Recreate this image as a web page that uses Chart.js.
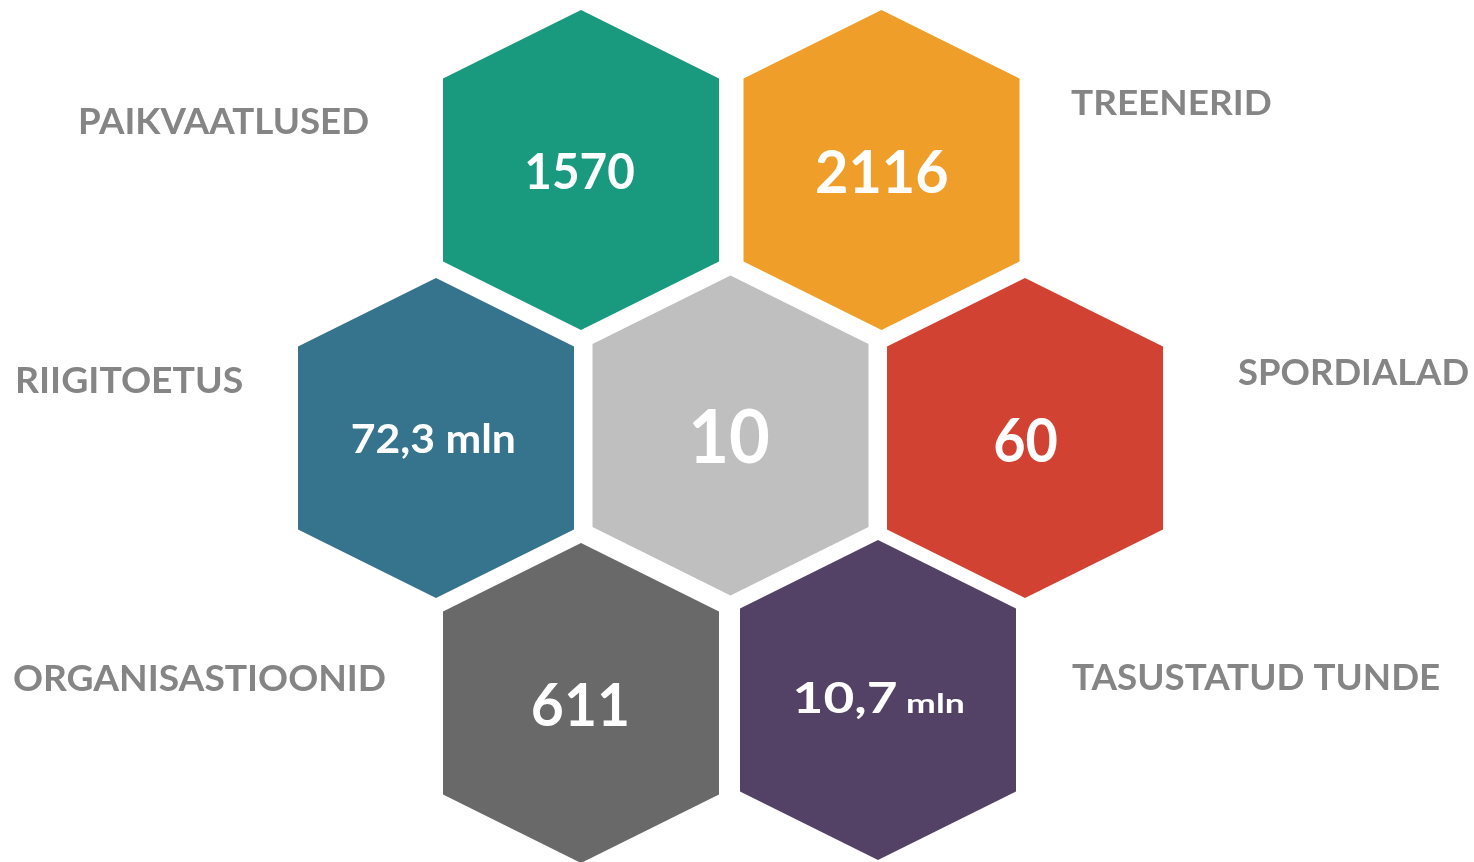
<!DOCTYPE html>
<html><head><meta charset="utf-8">
<script src="https://cdn.jsdelivr.net/npm/chart.js@4/dist/chart.umd.min.js"></script>
<style>
html,body{margin:0;padding:0;background:#fff;overflow:hidden}
#wrap{width:1474px;height:862px;position:relative}
</style>
</head><body>
<div id="wrap"><canvas id="c"></canvas></div>
<script>
// ---- data ----
const categories = ['PAIKVAATLUSED', 'TREENERID', 'RIIGITOETUS', '', 'SPORDIALAD', 'ORGANISASTIOONID', 'TASUSTATUD TUNDE'];
const values = [1570, 2116, 72.3, 10, 60, 611, 10.7];
const units = ['', '', 'mln', '', '', '', 'mln'];
const colors = ['#199a7f', '#f09e2a', '#36748e', '#bfbfbf', '#d24233', '#696969', '#534265'];

// ---- layout (chart coordinate space 1474 x 862) ----
const hexCenterX = [581, 881.5, 436, 730.5, 1025, 581, 878];
const hexCenterY = [170, 170, 438, 435.5, 438, 703, 700];
const HEX = { halfWidth: 138, halfHeight: 160, shoulder: 91.5 };
// value text: digit height, ink width, unit size ratio, offsets
const valueStyle = [
  { h: 36.6, w: 106.6, k: 1, dx: -0.5, dy: 1 },
  { h: 43.7, w: 130, k: 1, dx: 0.5, dy: 1 },
  { h: 29.3, w: 162.3, k: 1, dx: -3, dy: 0.7 },
  { h: 54, w: 77, k: 1, dx: 0, dy: 0.8 },
  { h: 44, w: 62, k: 1, dx: 1, dy: 1.7 },
  { h: 42.7, w: 94.4, k: 1, dx: -1, dy: 1.5 },
  { h: 30, w: 167.7, k: 0.67, dx: 1, dy: -1.7 }
];
// category labels: [left, right, capTop, baseline]
const labelBox = [
  [80, 368, 107, 134],
  [1071, 1271, 89.3, 115],
  [17, 242, 366, 393],
  null,
  [1238, 1468, 358, 385],
  [14, 385, 663.5, 690.5],
  [1072, 1439, 663, 690]
];
const FONT = 'Lato, "Open Sans", sans-serif';
const LABEL_COLOR = '#858585';

function fitText(ctx, parts, left, width, capH, baseline, refChar, color) {
  ctx.save();
  ctx.textAlign = 'left';
  ctx.textBaseline = 'alphabetic';
  ctx.font = 'bold 100px ' + FONT;
  const ref = ctx.measureText(refChar).actualBoundingBoxAscent;
  const size = 100 * capH / ref;
  let x = 0, inkL = null, inkR = 0;
  const runs = parts.map(p => {
    const s = size * p.k;
    ctx.font = 'bold ' + s + 'px ' + FONT;
    const mm = ctx.measureText(p.t);
    const r = { t: p.t, x: x, s: s };
    if (inkL === null) inkL = x - mm.actualBoundingBoxLeft;
    inkR = x + mm.actualBoundingBoxRight;
    x += mm.width;
    return r;
  });
  const sx = width / (inkR - inkL);
  ctx.translate(left, baseline);
  ctx.scale(sx, 1);
  ctx.translate(-inkL, 0);
  ctx.fillStyle = color;
  runs.forEach(r => { ctx.font = 'bold ' + r.s + 'px ' + FONT; ctx.fillText(r.t, r.x, 0); });
  ctx.restore();
}

const hexPlugin = {
  id: 'hexagons',
  beforeDatasetsDraw(chart) {
    const ctx = chart.ctx, xs = chart.scales.x, ys = chart.scales.y;
    const meta = chart.getDatasetMeta(0);
    const hw = Math.abs(xs.getPixelForValue(HEX.halfWidth) - xs.getPixelForValue(0));
    const hh = Math.abs(ys.getPixelForValue(HEX.halfHeight) - ys.getPixelForValue(0));
    const sh = Math.abs(ys.getPixelForValue(HEX.shoulder) - ys.getPixelForValue(0));
    meta.data.forEach((pt, i) => {
      const cx = pt.x, cy = pt.y;
      ctx.save();
      ctx.beginPath();
      ctx.moveTo(cx, cy - hh);
      ctx.lineTo(cx + hw, cy - sh);
      ctx.lineTo(cx + hw, cy + sh);
      ctx.lineTo(cx, cy + hh);
      ctx.lineTo(cx - hw, cy + sh);
      ctx.lineTo(cx - hw, cy - sh);
      ctx.closePath();
      ctx.fillStyle = colors[i];
      ctx.fill();
      ctx.restore();
    });
  },
  afterDatasetsDraw(chart) {
    const ctx = chart.ctx, xs = chart.scales.x, ys = chart.scales.y;
    const meta = chart.getDatasetMeta(0);
    meta.data.forEach((pt, i) => {
      const st = valueStyle[i];
      const parts = [{ t: String(values[i]).replace('.', ','), k: 1 }];
      if (units[i]) parts.push({ t: ' ' + units[i], k: st.k });
      const left = pt.x + st.dx - st.w / 2;
      const baseline = pt.y + st.dy + st.h / 2;
      fitText(ctx, parts, left, st.w, st.h, baseline, '0', '#ffffff');
      const b = labelBox[i];
      if (b && categories[i]) {
        const l = xs.getPixelForValue(b[0]), r = xs.getPixelForValue(b[1]);
        const t = ys.getPixelForValue(b[2]), bl = ys.getPixelForValue(b[3]);
        fitText(ctx, [{ t: categories[i], k: 1 }], l, r - l, bl - t, bl, 'H', LABEL_COLOR);
      }
    });
  }
};

function build() {
  new Chart(document.getElementById('c'), {
    type: 'scatter',
    data: {
      labels: categories,
      datasets: [{
        data: hexCenterX.map((x, i) => ({ x: x, y: hexCenterY[i] })),
        pointRadius: 0,
        pointHoverRadius: 0,
        backgroundColor: colors
      }]
    },
    options: {
      responsive: true,
      maintainAspectRatio: false,
      animation: false,
      layout: { padding: 0 },
      events: [],
      scales: {
        x: { type: 'linear', min: 0, max: 1474, display: false },
        y: { type: 'linear', min: 0, max: 862, reverse: true, display: false }
      },
      plugins: { legend: { display: false }, tooltip: { enabled: false } }
    },
    plugins: [hexPlugin]
  });
}
if (document.fonts && document.fonts.load) {
  document.fonts.load('bold 40px Lato').then(build, build);
} else { build(); }
</script>
</body></html>
